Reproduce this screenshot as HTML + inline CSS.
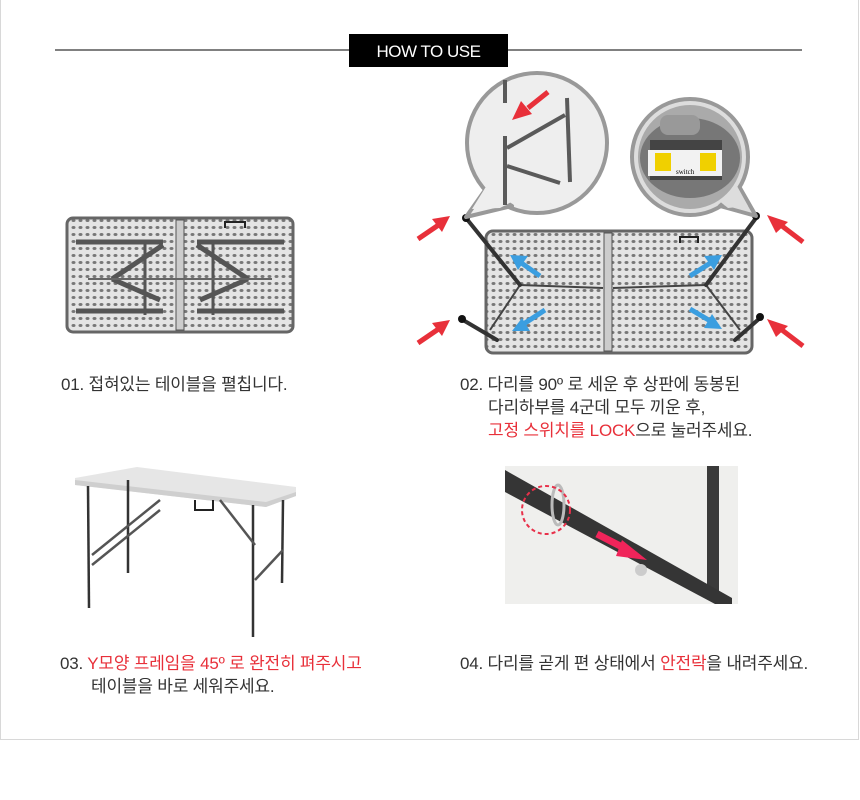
<!DOCTYPE html>
<html><head><meta charset="utf-8"><style>
html,body{margin:0;padding:0;background:#fff;}
body{width:860px;height:800px;position:relative;overflow:hidden;font-family:"Liberation Sans","Noto Sans CJK KR","NanumGothic",sans-serif;}
.frame{position:absolute;left:0;top:-2px;width:857px;height:740px;border:1px solid #d8d8d8;}
.t{position:absolute;font-size:17px;color:#333;letter-spacing:-0.2px;white-space:nowrap;}
.r{color:#e8303a;}
</style></head><body>
<div class="frame"></div>
<svg width="860" height="800" style="position:absolute;left:0;top:0">
<defs>
<pattern id="dots" width="7" height="7" patternUnits="userSpaceOnUse"><rect width="7" height="7" fill="#e4e4e4"/><ellipse cx="3.5" cy="3.5" rx="2" ry="1.5" fill="#777"/></pattern>
</defs>
<line x1="55" y1="50" x2="349" y2="50" stroke="#000" stroke-width="1"/>
<line x1="508" y1="50" x2="802" y2="50" stroke="#000" stroke-width="1"/>
<rect x="349" y="34" width="159" height="33" fill="#000"/>
<text x="428.5" y="57" fill="#fff" font-size="17" text-anchor="middle" font-family="Liberation Sans" letter-spacing="-0.5">HOW TO USE</text>

<!-- image 1 folded table -->
<rect x="67" y="218" width="226" height="114" rx="6" fill="url(#dots)" stroke="#666" stroke-width="3"/>
<rect x="176" y="220" width="8" height="110" fill="#ccc" stroke="#555"/>
<g stroke="#555" stroke-width="5" fill="none">
<line x1="76" y1="242" x2="163" y2="242"/><line x1="76" y1="311" x2="163" y2="311"/>
<line x1="197" y1="242" x2="284" y2="242"/><line x1="197" y1="311" x2="284" y2="311"/>
<line x1="163" y1="245" x2="112" y2="279"/><line x1="112" y1="279" x2="160" y2="300"/>
<line x1="197" y1="245" x2="248" y2="279"/><line x1="248" y1="279" x2="200" y2="300"/>
<line x1="145" y1="240" x2="145" y2="315" stroke-width="3"/><line x1="213" y1="240" x2="213" y2="315" stroke-width="3"/>
</g>
<line x1="88" y1="279" x2="272" y2="279" stroke="#666" stroke-width="2"/>
<path d="M225 228 v-6 h20 v6" stroke="#222" stroke-width="2" fill="none"/>

<!-- image 2 -->
<rect x="486" y="231" width="266" height="122" rx="7" fill="url(#dots)" stroke="#666" stroke-width="3"/>
<rect x="604" y="233" width="8" height="118" fill="#ccc" stroke="#555"/>
<g stroke="#444" stroke-width="2" fill="none">
<line x1="520" y1="285" x2="603" y2="288"/><line x1="706" y1="285" x2="613" y2="288"/>
<line x1="520" y1="285" x2="490" y2="330"/><line x1="706" y1="285" x2="740" y2="330"/>
</g>
<g stroke="#333" stroke-width="4" stroke-linecap="round">
<line x1="466" y1="218" x2="520" y2="285"/><line x1="756" y1="218" x2="706" y2="285"/>
<line x1="463" y1="320" x2="497" y2="340"/><line x1="760" y1="318" x2="735" y2="340"/>
</g>
<g fill="#111"><circle cx="466" cy="218" r="4"/><circle cx="756" cy="216" r="4"/><circle cx="462" cy="319" r="4"/><circle cx="760" cy="317" r="4"/></g>
<path d="M680 243 v-6 h18 v6" stroke="#222" stroke-width="2" fill="none"/>
<g stroke="#3b9ee0" stroke-width="5" fill="#3b9ee0">
<line x1="540" y1="276" x2="520" y2="262"/><polygon points="510,255 528,256 518,270" stroke="none"/>
<line x1="690" y1="276" x2="712" y2="262"/><polygon points="722,255 704,256 714,270" stroke="none"/>
<line x1="545" y1="310" x2="522" y2="325"/><polygon points="512,331 530,331 522,318" stroke="none"/>
<line x1="690" y1="309" x2="712" y2="322"/><polygon points="722,329 712,314 704,328" stroke="none"/>
</g>
<g stroke="#e8303a" stroke-width="5" fill="#e8303a">
<line x1="418" y1="239" x2="440" y2="224"/><polygon points="450,216 432,219 442,232" stroke="none"/>
<line x1="418" y1="343" x2="440" y2="328"/><polygon points="450,320 432,323 442,336" stroke="none"/>
<line x1="803" y1="242" x2="782" y2="226"/><polygon points="767,215 776,233 788,222" stroke="none"/>
<line x1="803" y1="346" x2="782" y2="330"/><polygon points="767,319 776,337 788,326" stroke="none"/>
</g>
<!-- bubble 1 -->
<ellipse cx="537" cy="143" rx="70" ry="70" fill="#eee" stroke="#999" stroke-width="4"/>
<polygon points="466,217 485,190 512,206" fill="#eee" stroke="#999" stroke-width="4" stroke-linejoin="round"/>
<polygon points="472,209 487,185 515,200 500,208" fill="#eee"/>
<g stroke="#5a5a5a" stroke-width="4">
<line x1="505" y1="136" x2="505" y2="205"/><line x1="505" y1="80" x2="505" y2="103"/>
<line x1="567" y1="98" x2="570" y2="182"/><line x1="507" y1="148" x2="565" y2="115"/><line x1="507" y1="166" x2="560" y2="183"/>
</g>
<g stroke="#e8303a" stroke-width="5" fill="#e8303a"><line x1="548" y1="92" x2="528" y2="108"/><polygon points="512,120 532,114 521,101" stroke="none"/></g>
<!-- bubble 2 -->
<circle cx="690" cy="157" r="58" fill="#ddd" stroke="#999" stroke-width="4"/>
<polygon points="756,216 740,188 720,206" fill="#ddd" stroke="#999" stroke-width="4" stroke-linejoin="round"/>
<polygon points="748,206 737,186 718,200 728,208" fill="#ddd"/>
<circle cx="690" cy="157" r="52" fill="#aaa"/>
<ellipse cx="690" cy="158" rx="50" ry="40" fill="#777"/>
<rect x="650" y="140" width="72" height="40" fill="#444"/>
<rect x="648" y="150" width="74" height="26" fill="#f2f2f2"/>
<rect x="655" y="153" width="16" height="18" fill="#f0d000"/><rect x="700" y="153" width="16" height="18" fill="#f0d000"/>
<text x="676" y="174" font-size="7" font-family="Liberation Serif" fill="#000">switch</text>
<rect x="660" y="115" width="40" height="20" rx="8" fill="#999"/>

<!-- image 3 table -->
<polygon points="75,478 137,467 296,487 296,496 266,507 75,485" fill="#e6e6e6"/>
<polygon points="75,485 266,507 296,496 296,492 266,502 75,480" fill="#cfcfcf"/>
<g stroke="#333" stroke-width="2.5">
<line x1="88" y1="486" x2="89" y2="608"/><line x1="128" y1="480" x2="128" y2="573"/>
<line x1="253" y1="505" x2="253" y2="637"/><line x1="283" y1="500" x2="282" y2="583"/>
<line x1="92" y1="555" x2="160" y2="500" stroke="#555"/><line x1="92" y1="565" x2="160" y2="510" stroke="#555"/>
<line x1="220" y1="500" x2="255" y2="545" stroke="#555"/><line x1="255" y1="580" x2="283" y2="550" stroke="#555"/>
</g>
<path d="M195 500 v10 h18 v-10" stroke="#222" stroke-width="2" fill="none"/>

<!-- image 4 photo -->
<rect x="505" y="466" width="233" height="138" fill="#efefed"/>
<rect x="707" y="466" width="12" height="130" fill="#3a3a3a"/>
<polygon points="505,470 505,492 715,604 732,604 732,598" fill="#353535"/>
<ellipse cx="558" cy="505" rx="6" ry="20" fill="none" stroke="#bbb" stroke-width="3"/>
<circle cx="641" cy="570" r="6" fill="#ccc"/>
<circle cx="546" cy="510" r="24" fill="none" stroke="#e8304a" stroke-width="2" stroke-dasharray="4,3"/>
<g stroke="#f0245a" stroke-width="7" fill="#f0245a"><line x1="597" y1="534" x2="628" y2="550"/><polygon points="647,560 622,540 616,556" stroke="none"/></g>
</svg>

<div class="t" style="left:61px;top:370px">01. 접혀있는 테이블을 펼칩니다.</div>
<div class="t" style="left:460px;top:370px">02. 다리를 90º 로 세운 후 상판에 동봉된</div>
<div class="t" style="left:488px;top:393px">다리하부를 4군데 모두 끼운 후,</div>
<div class="t" style="left:488px;top:416px"><span class="r">고정 스위치를 LOCK</span>으로 눌러주세요.</div>
<div class="t" style="left:60px;top:649px">03. <span class="r">Y모양 프레임을 45º 로 완전히 펴주시고</span></div>
<div class="t" style="left:91px;top:672px">테이블을 바로 세워주세요.</div>
<div class="t" style="left:460px;top:649px">04. 다리를 곧게 편 상태에서 <span class="r">안전락</span>을 내려주세요.</div>
</body></html>
